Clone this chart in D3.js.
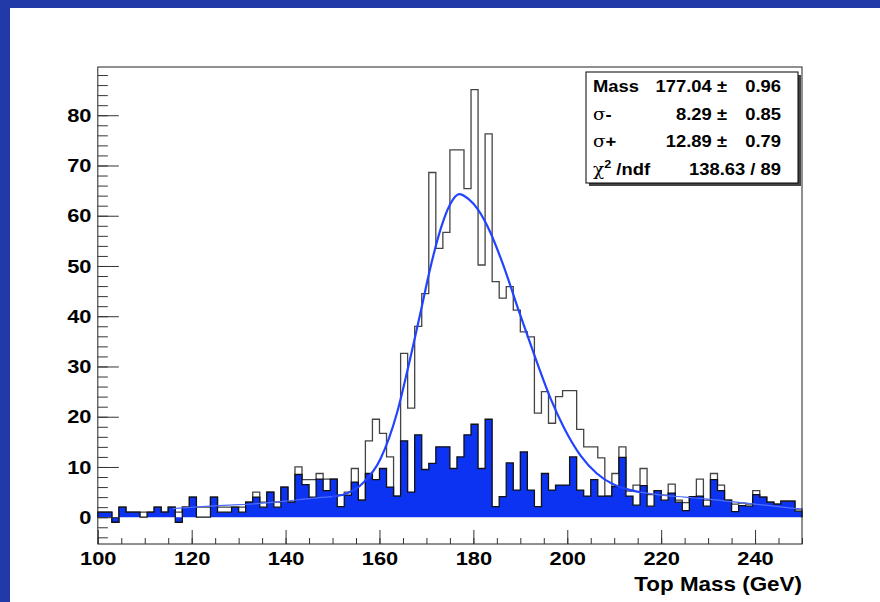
<!DOCTYPE html>
<html><head><meta charset="utf-8">
<script src="https://cdn.jsdelivr.net/npm/d3@7"></script>
<style>
body{margin:0;background:#fff;}
svg{display:block;}
text{font-family:"Liberation Sans",Arial,Helvetica,sans-serif;}
</style></head><body>
<svg id="c" width="880" height="602"></svg>
<script>
// ---------------- data ----------------
const binRange = [100, 250];
const nBins = 100;
const totalCounts = [
  1, 1, -1, 2, 1, 1, 1, 1, 2, 1,
  2, 1, 2, 4, 2, 2, 4, 2, 2, 2,
  2, 3, 5, 3, 5, 3, 6, 3, 10, 7.5,
  7.5, 8.7, 7.6, 7.6, 4.4, 5, 9.7, 3.4, 15.2, 19.5,
  16.7, 12, 4.2, 32.6, 21.7, 38, 44.5, 68.6, 53.5, 56.7,
  73.1, 73.1, 65.4, 85.1, 50.2, 76.3, 46.9, 43.6, 45.9, 41.2,
  36.9, 35.9, 20.7, 25, 18.7, 24, 25.2, 25.2, 17.5, 14,
  14, 11.8, 4.2, 8.7, 14, 5.2, 6.4, 9.7, 4.5, 5.3,
  4.4, 6.6, 3.4, 2.9, 4.1, 7.6, 3.4, 8.7, 6.4, 3.4,
  2.6, 2.8, 2.6, 5.3, 4, 3, 2.6, 3.2, 3.2, 1.6
];
const signalCounts = [
  1, 1, -1, 2, 1, 1, 0, 1, 2, 1,
  2, -1, 2, 4, 0, 0, 4, 1, 1, 2,
  1, 3, 4, 2, 5, 2, 6, 3, 8.5, 6.5,
  4, 7.6, 5.3, 7.6, 2.1, 4.4, 7, 3.4, 8.7, 7.5,
  9.7, 6, 4.2, 15.2, 5, 16.4, 9.5, 10.7, 14, 14,
  9.7, 12, 16.4, 18.5, 9.7, 19.5, 2.1, 4.1, 10.8, 5.4,
  13, 5.4, 2.1, 8.7, 5.4, 6.4, 6.4, 12, 5.4, 4.2,
  7.5, 4.2, 4.2, 6.1, 11.9, 4.2, 2.4, 6.3, 2.2, 5.3,
  3.4, 4.8, 3, 1.3, 4.1, 4.2, 2.2, 7.5, 5.3, 3.4,
  1.1, 2.3, 2.2, 4.5, 4, 3, 2.6, 3.2, 3.2, 1.2
];
const fitLowX  = [116, 122, 128, 134, 140, 146, 150];
const fitLowY  = [1.7, 2.1, 2.4, 2.7, 3.2, 3.8, 4.1];
const fitPeakX = [150, 153, 156.6, 160.2, 163.8, 165.9, 168.8, 170.8, 173, 175, 177, 179, 181, 183.6, 186, 190, 192.9, 196.5, 199.3, 202.8, 206.3, 209.9, 212.7, 215.5];
const fitPeakY = [4.1, 4.7, 6.9, 11.6, 21, 29, 41, 49.5, 57.3, 62.2, 64.3, 63.3, 61.2, 56.7, 51.1, 40.2, 32.5, 23.5, 17.8, 12.3, 8.7, 6.5, 5.6, 5.0];
const fitHighX = [215.5, 220, 225, 230, 235, 240, 245, 250];
const fitHighY = [5.0, 4.4, 4.0, 3.6, 3.1, 2.6, 2.1, 1.6];
const xTicks = [100, 120, 140, 160, 180, 200, 220, 240];
const yTicks = [0, 10, 20, 30, 40, 50, 60, 70, 80];
const xTitle = "Top Mass (GeV)";
const statNames  = ["Mass", "σ-", "σ+", "χ2 /ndf"];
const statValues = ["177.04 ±", "8.29 ±", "12.89 ±", ""];
const statErrors = ["0.96", "0.85", "0.79", "138.63 / 89"];

// ---------------- layout ----------------
const svg = d3.select("#c");
const L = 97.8, R = 802, T = 67, B = 544;
const SX = 1.15; // horizontal stretch of the original lettering
const x = d3.scaleLinear().domain(binRange).range([L, R]);
const y = d3.scaleLinear().domain([-5.33, 89.6]).range([B, T]);
const binW = (binRange[1] - binRange[0]) / nBins;
const edges = d3.range(nBins + 1).map(i => binRange[0] + i * binW);

svg.append("rect").attr("x", 0).attr("y", 0).attr("width", 880).attr("height", 8).attr("fill", "#223aa8");
svg.append("rect").attr("x", 0).attr("y", 0).attr("width", 10).attr("height", 602).attr("fill", "#223aa8");

function stepPath(vals, closed) {
  const p = d3.path();
  p.moveTo(x(edges[0]), y(0));
  vals.forEach((v, i) => { p.lineTo(x(edges[i]), y(v)); p.lineTo(x(edges[i + 1]), y(v)); });
  p.lineTo(x(edges[nBins]), y(0));
  if (closed) p.closePath();
  return p.toString();
}
function sText(px, py, anchor, size, str) {
  return svg.append("text").attr("transform", `translate(${px},${py}) scale(${SX},1)`)
    .attr("text-anchor", anchor).attr("font-size", size).attr("font-weight", "bold").text(str);
}

const plot = svg.append("g");
plot.append("path").attr("d", stepPath(totalCounts, false))
  .attr("fill", "none").attr("stroke", "#444").attr("stroke-width", 1.3);
plot.append("path").attr("d", stepPath(signalCounts, true))
  .attr("fill", "#0d33f2").attr("stroke", "none");
plot.append("path").attr("d", stepPath(signalCounts, false))
  .attr("fill", "none").attr("stroke", "#111").attr("stroke-width", 1.3);

const line = d3.line().x(d => x(d[0])).y(d => y(d[1])).curve(d3.curveMonotoneX);
plot.append("path").datum(d3.zip(fitLowX, fitLowY)).attr("d", line)
  .attr("fill", "none").attr("stroke", "#4f6dff").attr("stroke-width", 1.2);
plot.append("path").datum(d3.zip(fitHighX, fitHighY)).attr("d", line)
  .attr("fill", "none").attr("stroke", "#4f6dff").attr("stroke-width", 1.2);
plot.append("path").datum(d3.zip(fitPeakX, fitPeakY)).attr("d", line)
  .attr("fill", "none").attr("stroke", "#2244ff").attr("stroke-width", 2.2);

svg.append("rect").attr("x", L).attr("y", T).attr("width", R - L).attr("height", B - T)
  .attr("fill", "none").attr("stroke", "#222").attr("stroke-width", 1);

const yMinor = d3.range(-4, 89, 2);
const xMinor = d3.range(100, 251, 5);
svg.append("g").attr("transform", `translate(${L},0)`)
  .call(d3.axisLeft(y).tickValues(yMinor).tickSize(-10).tickFormat(""))
  .call(g => g.select(".domain").remove())
  .call(g => g.selectAll("line").attr("stroke", "#333"));
const yAx = svg.append("g").attr("transform", `translate(${L},0)`)
  .call(d3.axisLeft(y).tickValues(yTicks).tickSize(-21).tickPadding(5.5).tickFormat(d3.format("d")))
  .call(g => g.select(".domain").remove())
  .call(g => g.selectAll("line").attr("stroke", "#333"));
yAx.selectAll("text").attr("font-size", 19).attr("font-weight", "bold").attr("fill", "#000")
  .attr("font-family", "Liberation Sans, Arial, sans-serif").attr("transform", `scale(${SX},1)`);

svg.append("g").attr("transform", `translate(0,${B})`)
  .call(d3.axisBottom(x).tickValues(xMinor).tickSize(-6).tickFormat(""))
  .call(g => g.select(".domain").remove())
  .call(g => g.selectAll("line").attr("stroke", "#333"));
const xAx = svg.append("g").attr("transform", `translate(0,${B})`)
  .call(d3.axisBottom(x).tickValues(xTicks).tickSize(-14).tickPadding(8).tickFormat(d3.format("d")))
  .call(g => g.select(".domain").remove())
  .call(g => g.selectAll("line").attr("stroke", "#333"));
xAx.selectAll("text").attr("font-size", 19).attr("font-weight", "bold").attr("fill", "#000")
  .attr("font-family", "Liberation Sans, Arial, sans-serif").attr("transform", `scale(${SX},1)`);

sText(R, 591, "end", 19.5, xTitle);

// stats box
const bx = 586, by = 72, bw = 212, bh = 111;
svg.append("rect").attr("x", bx + 3).attr("y", by + 3).attr("width", bw).attr("height", bh).attr("fill", "#444");
svg.append("rect").attr("x", bx).attr("y", by).attr("width", bw).attr("height", bh)
  .attr("fill", "#fff").attr("stroke", "#000").attr("stroke-width", 1);
const rowH = bh / statNames.length;
statNames.forEach((n, i) => {
  const yy = by + rowH * (i + 0.5) + 6;
  const t = sText(bx + 7, yy, "start", 16, "");
  if (n.startsWith("σ")) {
    t.append("tspan").attr("font-weight", "normal").attr("font-family", "DejaVu Serif, serif").text("σ");
    t.append("tspan").text(n.slice(1));
  } else if (n.startsWith("χ2")) {
    t.append("tspan").attr("font-weight", "normal").attr("font-family", "DejaVu Serif, serif").text("χ");
    t.append("tspan").attr("dy", -7).attr("font-size", 11).text("2");
    t.append("tspan").attr("dy", 7).text(n.slice(2));
  } else t.text(n);
  if (statValues[i]) sText(727, yy, "end", 16, statValues[i]);
  sText(781, yy, "end", 16, statErrors[i]);
});
</script></body></html>
